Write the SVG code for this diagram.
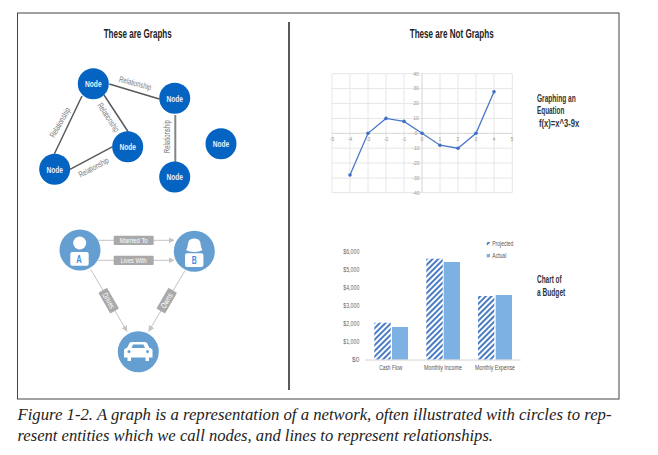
<svg xmlns="http://www.w3.org/2000/svg" width="658" height="455" viewBox="0 0 658 455">
<style>
text{font-family:"Liberation Sans Narrow","Liberation Sans",Arial,sans-serif}
.h{font-weight:700;font-size:13px;fill:#222;text-anchor:middle}
.s{font-weight:700;font-size:10.5px;fill:#333}
.n{fill:#0563c1}
.nt{font-weight:700;font-size:9.5px;fill:#e8f1fb;text-anchor:middle}
.rel{font-size:8.5px;fill:#777;text-anchor:middle}
.e{stroke:#5a5a5a;stroke-width:1.5;fill:none}
.c{fill:#659fd1}
.w{fill:#fff}
.a{stroke:#c4c4c4;stroke-width:1;fill:none;marker-end:url(#ah)}
.lb{fill:#a9a9a9}
.lt{font-size:8px;fill:#fff;text-anchor:middle}
.l{font-size:10px;font-weight:700;fill:#3d8fe0;text-anchor:middle}
.g{stroke:#e6e6e6;stroke-width:1;fill:none}
.ax{stroke:#d4d4d4;stroke-width:1;fill:none}
.tk{font-size:5px;fill:#999;text-anchor:middle}
.y{font-size:6.500px;fill:#666;text-anchor:end}
.x{font-size:6.500px;fill:#555;text-anchor:middle}
.cap{font-family:"Liberation Serif",serif;font-style:italic;font-size:16px;fill:#222}
.act{fill:#7db0e3}
</style>
<defs>
<marker id="ah" markerWidth="6" markerHeight="6" refX="5.500" refY="3" orient="auto" markerUnits="userSpaceOnUse"><path d="M0,0L6,3L0,6z" fill="#c4c4c4"/></marker>
<pattern id="hatch" width="4" height="4" patternUnits="userSpaceOnUse" patternTransform="rotate(45)"><rect width="4" height="4" fill="#fff"/><rect width="2" height="4" fill="#4a7cc4"/></pattern>
</defs>
<rect width="658" height="455" fill="#fff"/>
<rect x="17.500" y="13" width="601.500" height="386" fill="#fff" stroke="#444" stroke-width="1"/>
<line x1="289" y1="22" x2="289" y2="390" stroke="#222" stroke-width="1.500"/>

<text class="h" x="137.700" y="38" textLength="68" lengthAdjust="spacingAndGlyphs">These are Graphs</text>
<text class="h" x="451.700" y="38" textLength="84" lengthAdjust="spacingAndGlyphs">These are Not Graphs</text>

<g id="connectors">
<path class="e" d="M109.300,84L159.300,99M104,95L128.300,132M82,96L54.300,154M70,169.300L112.700,146.700"/>
<path d="M175.300,115L175.300,162" stroke="#858585" stroke-width="2" fill="none"/>
<path class="a" d="M98.300,240.300L174,240.300"/>
<path class="a" d="M98.300,260.300L174,260.300"/>
<path class="a" d="M90.700,269.300L127,331.300"/>
<path class="a" d="M185,270.700L148.700,331.300"/>
<text class="rel" transform="translate(134.500,86) rotate(15)" textLength="33" lengthAdjust="spacingAndGlyphs">Relationship</text>
<text class="rel" transform="translate(62.500,124) rotate(-60)" textLength="33" lengthAdjust="spacingAndGlyphs">Relationship</text>
<text class="rel" transform="translate(106,119) rotate(57)" textLength="33" lengthAdjust="spacingAndGlyphs">Relationship</text>
<text class="rel" transform="translate(95,170) rotate(-28)" textLength="33" lengthAdjust="spacingAndGlyphs">Relationship</text>
<text class="rel" transform="translate(169.500,136.700) rotate(-90)" textLength="33" lengthAdjust="spacingAndGlyphs">Relationship</text>
<g><rect class="lb" x="113.700" y="235.700" width="40" height="9.400" rx="1"/><text class="lt" x="133.700" y="243.200" textLength="28" lengthAdjust="spacingAndGlyphs">Married To</text></g>
<g><rect class="lb" x="113.700" y="255.700" width="40" height="9.400" rx="1"/><text class="lt" x="133.700" y="263.200" textLength="26" lengthAdjust="spacingAndGlyphs">Lives With</text></g>
<g transform="translate(108.700,300.700) rotate(60)"><rect class="lb" x="-12" y="-5" width="24" height="10" rx="1"/><text class="lt" y="2.700" textLength="17" lengthAdjust="spacingAndGlyphs">Drives</text></g>
<g transform="translate(166.700,300.700) rotate(-60)"><rect class="lb" x="-12" y="-5" width="24" height="10" rx="1"/><text class="lt" y="2.700" textLength="16" lengthAdjust="spacingAndGlyphs">Owns</text></g>
</g>

<g id="node1"><circle class="n" cx="93.300" cy="83.700" r="15.500"/><text class="nt" x="93.300" y="87" textLength="16.500" lengthAdjust="spacingAndGlyphs">Node</text></g>
<g id="node2"><circle class="n" cx="174.700" cy="98.300" r="15.500"/><text class="nt" x="174.700" y="101.600" textLength="16.500" lengthAdjust="spacingAndGlyphs">Node</text></g>
<g id="node3"><circle class="n" cx="127.700" cy="146.700" r="15.500"/><text class="nt" x="127.700" y="150" textLength="16.500" lengthAdjust="spacingAndGlyphs">Node</text></g>
<g id="node4"><circle class="n" cx="54.700" cy="169.300" r="15.500"/><text class="nt" x="54.700" y="172.600" textLength="16.500" lengthAdjust="spacingAndGlyphs">Node</text></g>
<g id="node5"><circle class="n" cx="174.700" cy="177" r="15.500"/><text class="nt" x="174.700" y="180.300" textLength="16.500" lengthAdjust="spacingAndGlyphs">Node</text></g>
<g id="node6"><circle class="n" cx="221" cy="143.700" r="15.500"/><text class="nt" x="221" y="147" textLength="16.500" lengthAdjust="spacingAndGlyphs">Node</text></g>

<g id="personA"><circle class="c" cx="80" cy="250" r="20.500"/><circle class="w" cx="79.700" cy="243" r="6.500"/><rect class="w" x="70.300" y="252" width="18.400" height="13.800" rx="2"/><text class="l" x="79" y="262.700" textLength="5.500" lengthAdjust="spacingAndGlyphs">A</text></g>
<g id="personB"><circle class="c" cx="194.300" cy="251.300" r="20.500"/><path class="w" d="M186,250C188,247.500 187.500,244 188.500,241.500C190,237.500 198.500,237.500 200,241.500C201,244 200.500,247.500 202.500,250C199,252.500 189.500,252.500 186,250z"/><rect class="w" x="185" y="253.300" width="18.400" height="13.800" rx="2"/><text class="l" x="194.300" y="264" textLength="5" lengthAdjust="spacingAndGlyphs">B</text></g>
<g id="car"><circle class="c" cx="138.300" cy="351.700" r="20.500"/><path class="w" d="M124,357.500L124,350.500Q124,348.500 127,348L129.500,343Q130.500,342 132,342L144.500,342Q146,342 147,343L149.500,348Q152.500,348.500 152.500,350.500L152.500,357.500L149,357.500L149,361L145.500,361L145.500,357.500L131,357.500L131,361L127.500,361L127.500,357.500z"/><path class="c" d="M131.500,348L133,344.500L143.500,344.500L145,348z"/><circle class="c" cx="129" cy="351.500" r="1.500"/><circle class="c" cx="147.500" cy="351.500" r="1.500"/></g>

<g id="equation-chart">
<path class="g" d="M332,73.700H512.300M332,88.600H512.300M332,103.400H512.300M332,118.500H512.300M332,148.200H512.300M332,163H512.300M332,178H512.300M332,192.700H512.300M332,73.700V192.700M349.900,73.700V192.700M368,73.700V192.700M386,73.700V192.700M404,73.700V192.700M440,73.700V192.700M458,73.700V192.700M476,73.700V192.700M494,73.700V192.700M512.300,73.700V192.700"/>
<path class="ax" d="M332,133.300H512.300M422,73.700V192.700"/>
<g class="tk">
<text x="332" y="141">-5</text><text x="350" y="141">-4</text><text x="368" y="141">-3</text><text x="386" y="141">-2</text><text x="404" y="141">-1</text><text x="422" y="141">0</text><text x="440" y="141">1</text><text x="458" y="141">2</text><text x="476" y="141">3</text><text x="494" y="141">4</text><text x="512" y="141">5</text>
<text x="416" y="75.500">40</text><text x="416" y="90.400">30</text><text x="416" y="105.300">20</text><text x="416" y="120.100">10</text><text x="416" y="135">0</text><text x="416" y="150">-10</text><text x="416" y="164.800">-20</text><text x="416" y="179.700">-30</text><text x="416" y="194.500">-40</text>
</g>
<polyline points="350,175 368,133.300 386,118.400 404,121.400 422,133.300 440,145.200 458,148.200 476,133.300 494,91.700" fill="none" stroke="#4a78c8" stroke-width="1.300"/>
<g fill="#3f70c4"><circle cx="350" cy="175" r="1.800"/><circle cx="368" cy="133.300" r="1.800"/><circle cx="386" cy="118.400" r="1.800"/><circle cx="404" cy="121.400" r="1.800"/><circle cx="422" cy="133.300" r="1.800"/><circle cx="440" cy="145.200" r="1.800"/><circle cx="458" cy="148.200" r="1.800"/><circle cx="476" cy="133.300" r="1.800"/><circle cx="494" cy="91.700" r="1.800"/></g>
</g>
<text class="s" x="537" y="102" textLength="38.700" lengthAdjust="spacingAndGlyphs">Graphing an</text>
<text class="s" x="537" y="114" textLength="27.300" lengthAdjust="spacingAndGlyphs">Equation</text>
<text class="s" x="539" y="126.700" textLength="40.300" lengthAdjust="spacingAndGlyphs">f(x)=x^3-9x</text>

<g id="budget-chart">
<rect x="374.300" y="322.700" width="16.400" height="37" fill="url(#hatch)"/>
<rect class="act" x="392" y="327" width="16" height="32.700"/>
<rect x="426.300" y="258.700" width="16.400" height="101" fill="url(#hatch)"/>
<rect class="act" x="443.700" y="262" width="16.300" height="97.700"/>
<rect x="478" y="296" width="16.300" height="63.700" fill="url(#hatch)"/>
<rect class="act" x="495.700" y="295" width="16.300" height="64.700"/>
<path class="ax" d="M365,360H520.700"/>
<g class="y"><text x="359.300" y="254.200" textLength="16" lengthAdjust="spacingAndGlyphs">$6,000</text><text x="359.300" y="272.200" textLength="16" lengthAdjust="spacingAndGlyphs">$5,000</text><text x="359.300" y="290.200" textLength="16" lengthAdjust="spacingAndGlyphs">$4,000</text><text x="359.300" y="308.200" textLength="16" lengthAdjust="spacingAndGlyphs">$3,000</text><text x="359.300" y="326.200" textLength="16" lengthAdjust="spacingAndGlyphs">$2,000</text><text x="359.300" y="344.200" textLength="16" lengthAdjust="spacingAndGlyphs">$1,000</text><text x="359.300" y="362.200">$0</text></g>
<g class="x"><text x="390.700" y="369.500" textLength="23" lengthAdjust="spacingAndGlyphs">Cash Flow</text><text x="443" y="369.500" textLength="38" lengthAdjust="spacingAndGlyphs">Monthly Income</text><text x="495" y="369.500" textLength="40" lengthAdjust="spacingAndGlyphs">Monthly Expense</text></g>
<rect x="486.700" y="242" width="3.300" height="3.300" fill="url(#hatch)"/>
<text class="x" x="492.300" y="245.700" style="text-anchor:start" textLength="21" lengthAdjust="spacingAndGlyphs">Projected</text>
<rect class="act" x="486.700" y="254" width="3.300" height="3.300"/>
<text class="x" x="492.300" y="257.500" style="text-anchor:start" textLength="14" lengthAdjust="spacingAndGlyphs">Actual</text>
</g>
<text class="s" x="537" y="283" textLength="24.700" lengthAdjust="spacingAndGlyphs">Chart of</text>
<text class="s" x="537" y="295.700" textLength="28.300" lengthAdjust="spacingAndGlyphs">a Budget</text>

<text class="cap" x="17.500" y="420" textLength="594" lengthAdjust="spacingAndGlyphs">Figure 1-2. A graph is a representation of a network, often illustrated with circles to rep-</text>
<text class="cap" x="17.500" y="441" textLength="475.500" lengthAdjust="spacingAndGlyphs">resent entities which we call nodes, and lines to represent relationships.</text>
</svg>
